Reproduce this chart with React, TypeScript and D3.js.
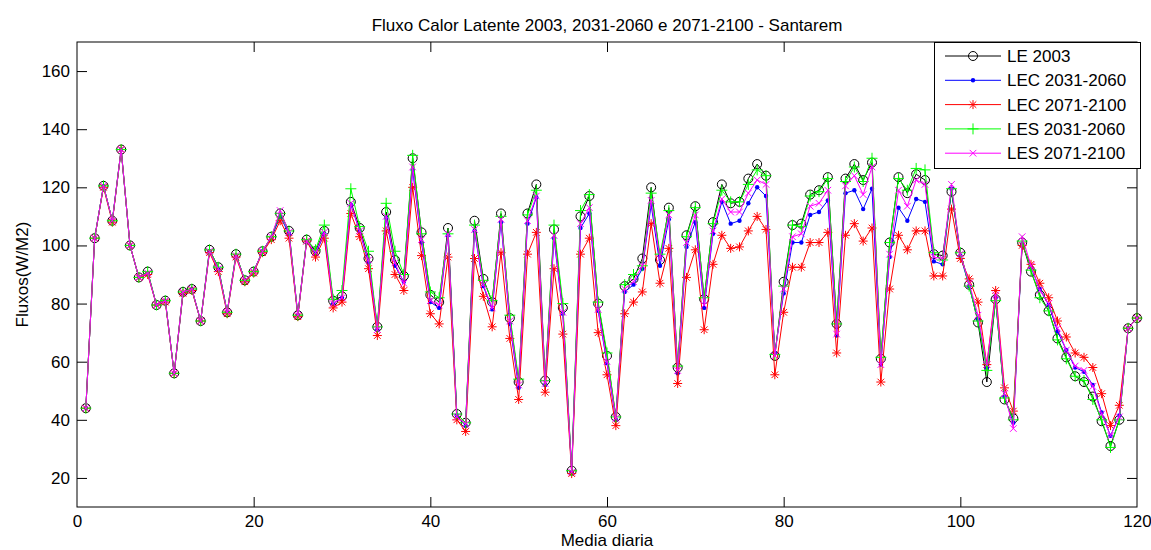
import React, { useEffect, useRef } from 'react';
import * as d3 from 'd3';

// dias (1..120) e series de fluxo de calor latente (W/M2)
const days = d3.range(1, 121);

const le2003 = [
  44, 102.5, 120.5, 108.5, 133, 100, 89, 91, 79.5, 81,
  56, 84, 85, 74, 98.5, 92.5, 77, 97, 88, 91,
  98, 103, 111, 105, 76, 102, 98, 105, 81, 82.5,
  115, 106, 95.5, 72, 111.5, 95, 89.5, 130, 104.5, 83,
  80.5, 106, 42, 39, 108.5, 88.5, 80.5, 111, 75, 53,
  111, 121, 53.5, 105.5, 78.5, 22.5, 110, 117, 80, 62,
  41, 86, 88.5, 95.5, 120, 95, 113, 58, 103.5, 113.5,
  81.5, 108, 121, 114.5, 115, 123, 128, 124, 62, 87.5,
  107, 107.5, 117.5, 119, 123.5, 73, 123, 128, 122.5, 128.5,
  61, 101, 123.5, 118, 124.5, 122.5, 97, 96.5, 118.5, 97.5,
  86.5, 73.5, 53, 81.5, 47, 40.5, 101, 91, 83, 77.5,
  68, 61.5, 55, 53, 48, 39.5, 31, 40, 71.5, 75,
];

const lec2031 = [
  44, 102.5, 120.5, 108.5, 133, 100, 89, 90.5, 79.5, 81,
  56, 83.5, 85, 74, 98, 92, 77, 96.5, 88, 91,
  98, 102.5, 110, 104, 76, 101.5, 97, 104, 80, 82,
  114, 105, 94, 71, 109.5, 93, 87.5, 126, 101, 80.5,
  78.5, 103.5, 41.5, 38, 105, 86, 78, 108, 73, 51,
  107.5, 116.5, 52, 102.5, 76.5, 22, 106, 111, 77.5, 59.5,
  40, 84, 86.5, 92, 114, 93, 109, 56, 99.5, 108,
  78.5, 104, 115, 107.5, 108.5, 114.5, 120, 117, 63, 83.5,
  101, 101, 110.5, 111.5, 115.5, 69, 118, 119, 112.5, 119.5,
  59, 96, 113, 108.5, 116, 115, 94.5, 93.5, 119.5, 96.5,
  86, 74.5, 58, 82, 48, 39, 100.5, 92.5, 85, 79.5,
  70.5, 64, 58, 56.5, 52, 42.5, 34.5, 41.5, 71.5, 75,
];

const lec2071 = [
  44, 102.5, 120, 108, 133, 100, 89, 90, 79.5, 80.5,
  56, 83.5, 84.5, 74, 97.5, 91, 76.5, 96, 87.5, 90.5,
  97.5, 102, 108.5, 102.5, 75.5, 101.5, 96, 102.5, 78.5, 80.5,
  111, 103, 92, 69, 105, 90, 84.5, 120, 96.5, 76.5,
  73, 96, 40, 36, 95.5, 82.5, 72, 97.5, 68, 47,
  97, 104.5, 49.5, 92, 69.5, 21.5, 97, 102.5, 70, 55.5,
  38, 76.5, 80.5, 84, 107.5, 87, 99, 52.5, 89, 98.5,
  71, 93.5, 103.5, 99, 99.5, 105, 110, 105.5, 55.5, 77,
  92.5, 92.5, 101, 101, 104.5, 63, 103.5, 107.5, 101.5, 106,
  53, 85, 103.5, 98.5, 105, 105, 89.5, 89.5, 112.5, 95.5,
  88.5, 80.5, 59, 84.5, 51, 43, 100, 93.5, 87, 82,
  74, 68.5, 63, 61.5, 58, 49, 38, 45, 71.5, 75,
];

const les2031 = [
  44, 102.5, 120.5, 108.5, 133, 100, 89, 91, 79.5, 81,
  56, 84, 85, 74, 98.5, 92.5, 77, 97, 88, 91,
  98, 103, 111, 105, 76, 102, 98.5, 107, 81.5, 84.5,
  119.5, 106.5, 98, 72, 114.5, 98, 90, 131, 104, 84,
  82, 104, 42, 39, 107, 88, 81, 110, 76, 54,
  110.5, 119, 53.5, 107, 80, 22.5, 112, 117.5, 80.5, 63,
  41, 86.5, 90, 93, 118, 97, 112, 58.5, 103, 113,
  82, 107.5, 119, 115, 115, 121, 126, 124, 62.5, 86,
  107, 106.5, 117, 118.5, 123, 73, 122, 127, 122, 130,
  61.5, 101, 123, 119, 126.5, 126, 97.5, 95, 119.5, 97.5,
  86, 74, 57, 81, 47.5, 40, 101.5, 91.5, 82, 77.5,
  67.5, 61, 55, 53.5, 47, 40, 30.5, 40, 71.5, 75,
];

const les2071 = [
  44, 102.5, 120.5, 108.5, 133, 100, 89, 90.5, 79.5, 81,
  56, 84, 85, 74, 98, 92, 77, 96.5, 88, 91,
  98, 103, 112, 104.5, 76, 101.5, 97.5, 104.5, 80, 82,
  114.5, 105, 95, 71, 110, 94, 87, 127, 102, 81,
  79.5, 104, 41, 38.5, 105.5, 86.5, 78.5, 109, 74, 52,
  108.5, 117, 52.5, 103.5, 77, 22, 107.5, 113, 78, 60,
  40.5, 85, 87.5, 93, 115.5, 95.5, 110.5, 57, 101, 110.5,
  79.5, 105, 116, 111.5, 111.5, 118, 122.5, 121, 62, 85,
  103, 104, 113.5, 114.5, 119, 69.5, 120.5, 124, 117.5, 127,
  59, 97, 119, 113.5, 122.5, 121, 96, 95.5, 121, 97,
  87, 76, 59, 83, 49, 37, 103, 93, 84.5, 80,
  71.5, 64, 58.5, 57, 51.5, 42, 34.5, 41, 71.5, 75,
];

const seriesNames = ['LE 2003', 'LEC 2031-2060', 'LEC 2071-2100', 'LES 2031-2060', 'LES 2071-2100'];
const seriesValues = [le2003, lec2031, lec2071, les2031, les2071];
const seriesColors = ['#000000', '#0000ff', '#ff0000', '#00ff00', '#ff00ff'];
const seriesMarkers = ['o', '.', '*', '+', 'x'];

const xTicks = [0, 20, 40, 60, 80, 100, 120];
const yTicks = [20, 40, 60, 80, 100, 120, 140, 160];

const W = 1151;
const H = 550;
const FONT = '"Liberation Sans", Arial, Helvetica, sans-serif';

// desenha um marcador estilo matlab
function drawMarker(g: any, type: string, x: number, y: number, color: string) {
  if (type === 'o') {
    g.append('circle').attr('cx', x).attr('cy', y).attr('r', 4.5)
      .attr('fill', 'none').attr('stroke', color).attr('stroke-width', 1);
    return;
  }
  if (type === '.') {
    g.append('circle').attr('cx', x).attr('cy', y).attr('r', 2.2).attr('fill', color);
    return;
  }
  let p = '';
  if (type === '+' || type === '*') {
    const s = type === '+' ? 5.5 : 4.5;
    p += `M${x - s},${y}H${x + s}M${x},${y - s}V${y + s}`;
  }
  if (type === 'x' || type === '*') {
    const d = 3.3;
    p += `M${x - d},${y - d}L${x + d},${y + d}M${x - d},${y + d}L${x + d},${y - d}`;
  }
  g.append('path').attr('d', p).attr('fill', 'none').attr('stroke', color).attr('stroke-width', 1);
}

export default function App() {
  const ref = useRef<SVGSVGElement>(null);

  useEffect(() => {
    const svg = d3.select(ref.current);
    svg.selectAll('*').remove();

    const left = 77;
    const right = 1137;
    const top = 42;
    const bottom = 507;

    const x = d3.scaleLinear().domain([0, 120]).range([left, right]);
    const y = d3.scaleLinear().domain([10, 170]).range([bottom, top]);

    svg.append('rect').attr('width', W).attr('height', H).attr('fill', '#ffffff');

    // titulo
    svg.append('text')
      .attr('x', (left + right) / 2).attr('y', 31)
      .attr('text-anchor', 'middle')
      .style('font-family', FONT).style('font-size', '17px')
      .text('Fluxo Calor Latente 2003, 2031-2060 e 2071-2100 - Santarem');

    // eixos com ticks para dentro
    const gx = svg.append('g').attr('transform', `translate(0,${bottom})`)
      .call(d3.axisBottom(x).tickValues(xTicks).tickSizeInner(-10).tickSizeOuter(0).tickPadding(8));
    const gxTop = svg.append('g').attr('transform', `translate(0,${top})`)
      .call(d3.axisTop(x).tickValues(xTicks).tickSizeInner(-10).tickSizeOuter(0).tickFormat(() => ''));
    const gy = svg.append('g').attr('transform', `translate(${left},0)`)
      .call(d3.axisLeft(y).tickValues(yTicks).tickSizeInner(-10).tickSizeOuter(0).tickPadding(7));
    const gyRight = svg.append('g').attr('transform', `translate(${right},0)`)
      .call(d3.axisRight(y).tickValues(yTicks).tickSizeInner(-10).tickSizeOuter(0).tickFormat(() => ''));

    [gx, gxTop, gy, gyRight].forEach((g) => {
      g.select('.domain').remove();
      g.selectAll('line').attr('stroke', '#000');
      g.selectAll('text').attr('fill', '#000')
        .style('font-family', FONT).style('font-size', '17px');
    });
    // matlab ignora o tick 0/120 em cima e no lado
    gxTop.selectAll('.tick').filter((d: any) => d === 0 || d === 120).remove();
    gx.selectAll('.tick line').filter((d: any) => d === 0 || d === 120).remove();

    // caixa
    svg.append('rect')
      .attr('x', left).attr('y', top)
      .attr('width', right - left).attr('height', bottom - top)
      .attr('fill', 'none').attr('stroke', '#000').attr('stroke-width', 1);

    // rotulos dos eixos
    svg.append('text')
      .attr('x', (left + right) / 2).attr('y', 546)
      .attr('text-anchor', 'middle')
      .style('font-family', FONT).style('font-size', '17px')
      .text('Media diaria');
    svg.append('text')
      .attr('transform', `translate(28,${(top + bottom) / 2}) rotate(-90)`)
      .attr('text-anchor', 'middle')
      .style('font-family', FONT).style('font-size', '17px')
      .text('Fluxos(W/M2)');

    // series
    const line = d3.line<number>()
      .x((d, i) => x(days[i]))
      .y((d) => y(d));

    seriesValues.forEach((vals, s) => {
      const g = svg.append('g');
      g.append('path')
        .attr('d', line(vals))
        .attr('fill', 'none')
        .attr('stroke', seriesColors[s])
        .attr('stroke-width', 1);
      vals.forEach((v, i) => {
        drawMarker(g, seriesMarkers[s], x(days[i]), y(v), seriesColors[s]);
      });
    });

    // legenda
    const lg = svg.append('g');
    lg.append('rect')
      .attr('x', 934.5).attr('y', 42.5)
      .attr('width', 206).attr('height', 126)
      .attr('fill', '#fff').attr('stroke', '#000');
    seriesNames.forEach((name, s) => {
      const ly = 56 + s * 24.3;
      lg.append('line')
        .attr('x1', 945).attr('x2', 1001)
        .attr('y1', ly).attr('y2', ly)
        .attr('stroke', seriesColors[s]);
      drawMarker(lg, seriesMarkers[s], 973, ly, seriesColors[s]);
      lg.append('text')
        .attr('x', 1007).attr('y', ly).attr('dy', '0.36em')
        .style('font-family', FONT).style('font-size', '17px')
        .text(name);
    });
  }, []);

  return (
    <svg
      ref={ref}
      width={W}
      height={H}
      style={{ position: 'absolute', left: 0, top: 0, display: 'block' }}
    />
  );
}
